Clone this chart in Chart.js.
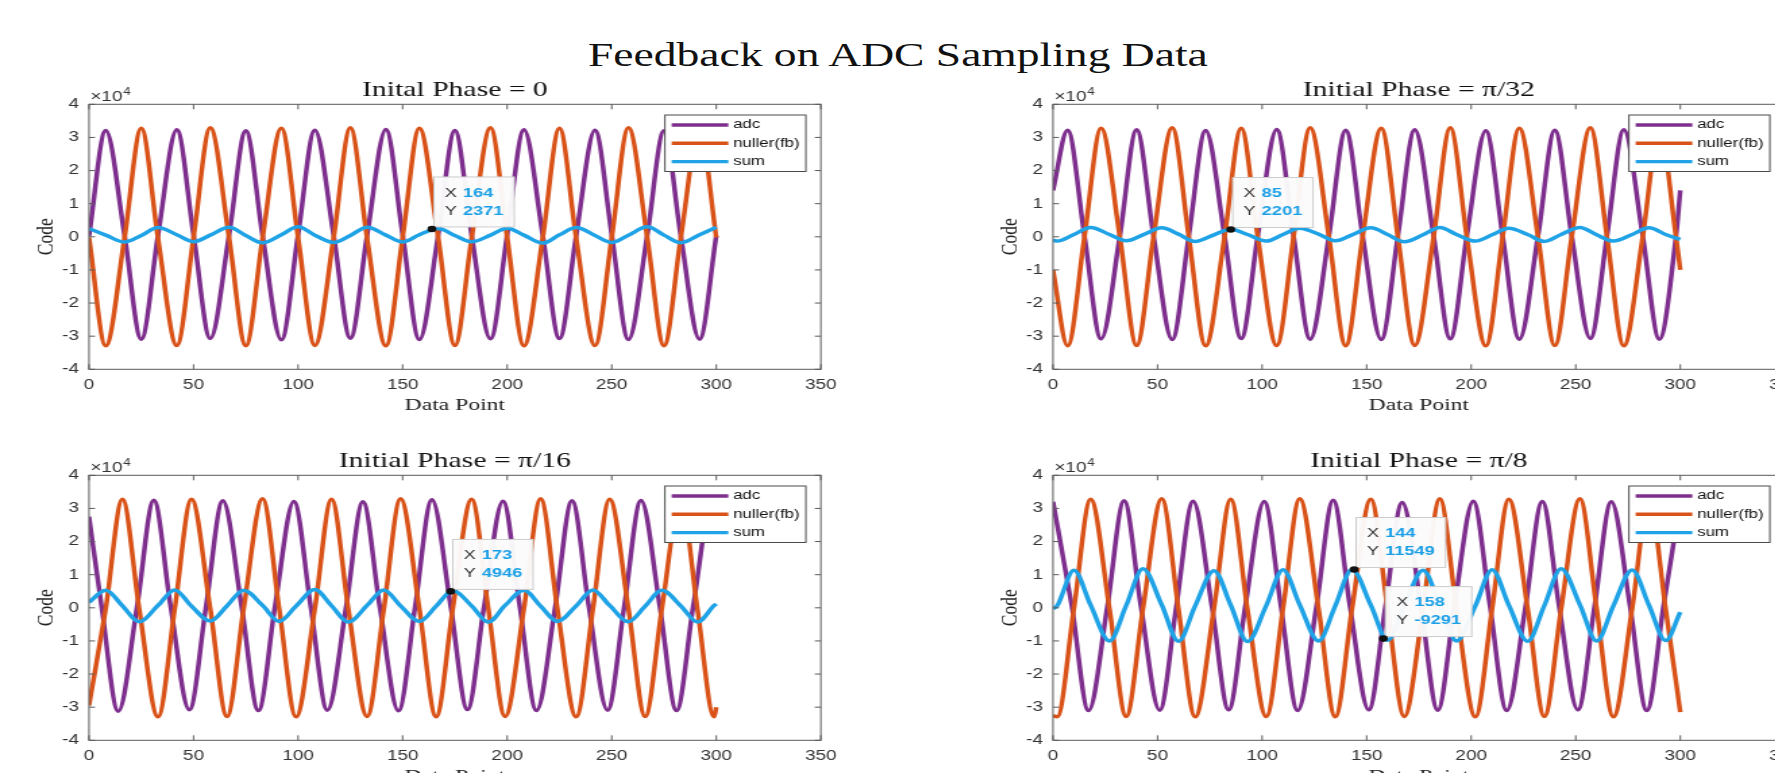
<!DOCTYPE html>
<html><head><meta charset="utf-8">
<script src="https://cdn.jsdelivr.net/npm/chart.js@4.4.1/dist/chart.umd.min.js"></script>
<style>
html,body{margin:0;padding:0;background:#fff;overflow:hidden;width:1775px;height:773px}
body{position:relative}
#mainTitle{position:absolute;left:588px;top:39px;font-family:'Liberation Serif',serif;font-size:33px;line-height:33px;white-space:nowrap;transform:scaleX(1.38);transform-origin:0 0;color:#111}
canvas{position:absolute}
</style></head><body>
<div id="mainTitle">Feedback on ADC Sampling Data</div>
<canvas id="c1" width="652" height="360" style="left:0px;top:60px;width:880.2px;height:360px"></canvas>
<canvas id="c2" width="652" height="360" style="left:964px;top:60px;width:880.2px;height:360px"></canvas>
<canvas id="c3" width="652" height="360" style="left:0px;top:430.6px;width:880.2px;height:360px"></canvas>
<canvas id="c4" width="652" height="360" style="left:964px;top:430.6px;width:880.2px;height:360px"></canvas>
<script>
// ---------- data ----------
const seriesNames = ['adc', 'nuller(fb)', 'sum'];
const seriesColors = ['#7E2F8E', '#D95319', '#1FA3E6'];
const subplotTitles = ['Inital Phase = 0', 'Initial Phase = \u03C0/32', 'Initial Phase = \u03C0/16', 'Initial Phase = \u03C0/8'];

// Plot 1 : initial phase 0
const grid1 = [0,8,17,25,33,42,50,58,67,75,83,92,100,108,117,125,133,142,150,158,167,175,183,192,200,208,217,225,233,242,250,258,267,275,283,292,300];
const adc1 = [200,32100,500,-30900,400,32300,600,-30700,500,32000,400,-31100,600,32200,500,-30600,400,32400,600,-31000,500,32100,400,-30800,600,32300,500,-30700,400,32200,600,-31000,500,32000,400,-30900,300];
const nul1 = [-200,-32900,-300,32800,-400,-32800,-200,32900,-300,-32900,-400,32800,-200,-32800,-300,32900,-400,-32900,-200,32800,-300,-32800,-400,32900,-200,-32900,-300,32800,-400,-32800,-200,32900,-300,-32900,-400,32800,-200];
const sum1 = [2500,500,-1600,400,2800,600,-1500,500,2900,400,-1800,600,3000,500,-1700,400,2900,500,-1600,600,2500,400,-1500,500,2600,500,-1900,600,2800,400,-1700,500,3000,500,-1800,600,2900];
const tip1X = [164];
const tip1Y = [2371];

// Plot 2 : initial phase pi/32
const grid2a = [0,7,15,23,32,40,48,57,65,73,82,90,98,107,115,123,132,140,148,157,165,173,182,190,198,207,215,223,232,240,248,257,265,273,282,290,298,300];
const adc2 = [14000,32200,500,-30800,400,32300,600,-31000,500,32100,400,-30700,600,32400,500,-30900,400,32200,600,-31000,500,32300,400,-30800,600,32000,500,-30900,400,32200,600,-30700,500,32300,400,-30900,500,14000];
const nul2 = [-10000,-32900,-300,32800,-200,-32800,-400,32900,-300,-32900,-200,32800,-400,-32800,-300,32900,-200,-32900,-400,32800,-300,-32800,-200,32900,-400,-32900,-300,32800,-200,-32800,-400,32900,-300,-32900,-200,32800,-300,-10000];
const grid2b = [0,2,10,18,27,35,43,52,60,68,77,85,93,102,110,118,127,135,143,152,160,168,177,185,193,202,210,218,227,235,243,252,260,268,277,285,293,300];
const sum2 = [-1000,-1300,700,2800,700,-1200,600,2700,800,-1400,600,2300,700,-1300,700,2600,800,-1200,600,2700,700,-1500,600,2800,700,-1300,600,2600,700,-1400,700,2800,600,-1300,700,2700,700,-800];
const tip2X = [85];
const tip2Y = [2201];

// Plot 3 : initial phase pi/16
const grid3a = [0,6,14,23,31,39,48,56,64,73,81,89,98,106,114,123,131,139,148,156,164,173,181,189,198,206,214,223,231,239,248,256,264,273,281,289,298,300];
const adc3 = [27500,500,-31200,400,32500,600,-30800,500,32300,400,-31000,600,32100,500,-30900,400,32000,600,-31100,500,32600,400,-30700,600,32200,500,-31000,400,32300,600,-30900,500,32400,400,-31000,600,32200,31000];
const grid3b = [0,8,16,24,33,41,49,58,66,74,83,91,99,108,116,124,133,141,149,158,166,174,183,191,199,208,216,224,233,241,249,258,266,274,283,291,299,300];
const nul3 = [-29500,-300,32800,-200,-32900,-400,32800,-300,-32800,-200,32900,-400,-32900,-300,32800,-200,-32800,-400,32900,-300,-32900,-200,32800,-400,-32800,-300,32900,-200,-32900,-400,32800,-300,-32800,-200,32900,-400,-32900,-30000];
const sum3 = [1700,5300,600,-4200,700,5400,500,-4000,600,5300,700,-4100,500,5500,600,-4300,700,5400,600,-4100,500,5200,600,-4300,700,5300,500,-4100,600,5400,700,-4200,500,5300,600,-4300,700,1200];
const tip3X = [173];
const tip3Y = [4946];

// Plot 4 : initial phase pi/8
const grid4a = [0,9,17,26,34,42,51,59,67,76,84,92,101,109,117,126,134,142,151,159,167,176,184,192,201,209,217,226,234,242,251,259,267,276,284,292,300];
const adc4 = [32000,500,-31000,400,32300,600,-30900,500,32200,400,-30800,600,32100,500,-31000,400,32500,600,-30800,500,31800,400,-30900,600,32200,500,-31000,400,32100,600,-30800,500,32000,400,-31000,600,32200];
const grid4b = [0,2,10,18,27,35,43,52,60,68,77,85,93,102,110,118,127,135,143,152,160,168,177,185,193,202,210,218,227,235,243,252,260,268,277,285,293,300];
const nul4 = [-32600,-32900,-300,32800,-200,-32800,-400,32900,-300,-32900,-200,32800,-400,-32800,-300,32900,-200,-32900,-400,32800,-300,-32800,-200,32900,-400,-32900,-300,32800,-200,-32800,-400,32900,-300,-32900,-200,32800,-300,-31500];
const sum4 = [-300,600,11300,800,-10000,700,11800,900,-10100,600,11200,800,-10200,700,11500,900,-10000,600,11600,800,-9800,700,11300,900,-10000,600,11500,800,-10100,700,11800,900,-10000,600,11400,800,-9900,-1300];
const tip4X = [144, 158];
const tip4Y = [11549, -9291];

// axis limits / ticks
const xMin = 0, xMax = 350, xStep = 50;
const yMin = -40000, yMax = 40000, yStep = 10000, yExponent = 4;

// ---------- rendering ----------
Chart.defaults.font.family = "'Liberation Sans', Arial, sans-serif";

function pts(xs, ys) { return xs.map((x, i) => ({ x: x, y: ys[i] })); }

function drawTipBoxes(chart) {
  const opts = chart.options.plugins.matlabAxes;
  const { ctx, scales: { x, y } } = chart;
  ctx.save();
  opts.tipsX.forEach((xv, i) => {
    const yv = opts.tipsY[i];
    const px = x.getPixelForValue(xv), py = y.getPixelForValue(yv);
    ctx.font = "bold 13.5px 'Liberation Sans'";
    const w = Math.max(ctx.measureText(String(xv)).width, ctx.measureText(String(yv)).width);
    const bw = 21.5 + w + 8, bh = 50;
    const bx = px + 1.5, by = py - 2 - bh;
    ctx.fillStyle = 'rgba(251,251,251,0.97)';
    ctx.fillRect(bx, by, bw, bh);
    ctx.strokeStyle = '#cccccc'; ctx.lineWidth = 1;
    ctx.strokeRect(bx, by, bw, bh);
    ctx.textBaseline = 'middle'; ctx.textAlign = 'left';
    ctx.font = "13.5px 'Liberation Sans'"; ctx.fillStyle = '#333';
    ctx.fillText('X', bx + 8, by + 16);
    ctx.fillText('Y', bx + 8, by + 34);
    ctx.font = "bold 13.5px 'Liberation Sans'"; ctx.fillStyle = '#1A9FE6';
    ctx.fillText(String(xv), bx + 21.5, by + 16);
    ctx.fillText(String(yv), bx + 21.5, by + 34);
  });
  ctx.restore();
}

const matlabAxes = {
  id: 'matlabAxes',
  beforeDatasetDraw(chart, args) {
    if (args.index === 3) drawTipBoxes(chart);
  },
  afterDatasetsDraw(chart) {
    const { ctx, chartArea: a, scales: { x, y } } = chart;
    ctx.save();
    // axes box + inward ticks
    ctx.strokeStyle = '#5a5a5a'; ctx.lineWidth = 1;
    ctx.strokeRect(a.left, a.top, a.right - a.left, a.bottom - a.top);
    ctx.beginPath();
    x.ticks.forEach(t => {
      const px = x.getPixelForValue(t.value);
      ctx.moveTo(px, a.bottom); ctx.lineTo(px, a.bottom - 5);
      ctx.moveTo(px, a.top); ctx.lineTo(px, a.top + 5);
    });
    y.ticks.forEach(t => {
      const py = y.getPixelForValue(t.value);
      ctx.moveTo(a.left, py); ctx.lineTo(a.left + 4.5, py);
      ctx.moveTo(a.right, py); ctx.lineTo(a.right - 4.5, py);
    });
    ctx.stroke();
    // exponent label
    ctx.fillStyle = '#333'; ctx.textAlign = 'left'; ctx.textBaseline = 'alphabetic';
    ctx.font = "14px 'Liberation Sans'";
    ctx.fillText('\u00D710', a.left + 1, a.top - 3);
    const w = ctx.measureText('\u00D710').width;
    ctx.font = "10px 'Liberation Sans'";
    ctx.fillText(String(yExponent), a.left + 1.5 + w, a.top - 9);
    // legend box
    const lw = 104.4, lh = 56.5;
    const lx = a.right - 11.1 - lw, ly = a.top + 10.7;
    ctx.fillStyle = '#ffffff'; ctx.fillRect(lx, ly, lw, lh);
    ctx.strokeStyle = '#4a4a4a'; ctx.lineWidth = 1; ctx.strokeRect(lx, ly, lw, lh);
    chart.data.datasets.slice(0, 3).forEach((ds, i) => {
      const ry = ly + 10 + i * 18.3;
      ctx.strokeStyle = ds.borderColor; ctx.lineWidth = 3.4;
      ctx.beginPath(); ctx.moveTo(lx + 5, ry); ctx.lineTo(lx + 47, ry); ctx.stroke();
      ctx.fillStyle = '#111'; ctx.font = "12.5px 'Liberation Sans'"; ctx.textBaseline = 'middle';
      ctx.fillText(ds.label, lx + 50.5, ry);
    });
    ctx.restore();
  }
};

function makeChart(id, title, xs, ys, tipX, tipY) {
  const order = [4, 3, 2];
  const datasets = seriesNames.map((name, i) => ({
    label: name,
    data: pts(xs[i], ys[i]),
    borderColor: seriesColors[i],
    backgroundColor: seriesColors[i],
    borderWidth: 3.5,
    pointRadius: 0,
    cubicInterpolationMode: 'monotone',
    fill: false,
    order: order[i]
  }));
  datasets.push({
    label: 'datatip',
    data: pts(tipX, tipY),
    showLine: false,
    pointRadius: 3.3,
    pointBackgroundColor: '#111',
    pointBorderColor: '#111',
    pointBorderWidth: 0,
    borderColor: '#111',
    order: 1
  });
  return new Chart(document.getElementById(id), {
    type: 'line',
    data: { datasets },
    plugins: [matlabAxes],
    options: {
      responsive: false,
      animation: false,
      events: [],
      layout: { padding: { left: 0, right: 43.85, top: 0, bottom: 0 } },
      plugins: {
        legend: { display: false },
        tooltip: { enabled: false },
        title: {
          display: true, text: title, fullSize: false, color: '#111',
          font: { family: "'Liberation Serif', serif", size: 22, weight: 'normal' },
          padding: { top: 16.8, bottom: 1.1 }
        },
        matlabAxes: { tipsX: tipX, tipsY: tipY }
      },
      scales: {
        x: {
          type: 'linear', min: xMin, max: xMax,
          ticks: { stepSize: xStep, padding: 7, color: '#333', font: { size: 14 }, maxRotation: 0, autoSkip: false },
          grid: { display: false, drawTicks: false },
          border: { display: false },
          title: { display: true, text: 'Data Point', color: '#222',
                   font: { family: "'Liberation Serif', serif", size: 17.5 }, padding: { top: 0, bottom: 4.3 } },
          afterFit(s) { s.height = 50.7; }
        },
        y: {
          type: 'linear', min: yMin, max: yMax,
          ticks: { stepSize: yStep, padding: 7.4, color: '#333', font: { size: 14 },
                   callback: v => String(v / Math.pow(10, yExponent)) },
          grid: { display: false, drawTicks: false },
          border: { display: false },
          title: { display: true, text: 'Code', color: '#222',
                   font: { family: "'Liberation Serif', serif", size: 17.5 }, padding: { top: 24.4, bottom: 0 } },
          afterFit(s) { s.width = 65.93; }
        }
      }
    }
  });
}

makeChart('c1', subplotTitles[0], [grid1, grid1, grid1], [adc1, nul1, sum1], tip1X, tip1Y);
makeChart('c2', subplotTitles[1], [grid2a, grid2a, grid2b], [adc2, nul2, sum2], tip2X, tip2Y);
makeChart('c3', subplotTitles[2], [grid3a, grid3b, grid3b], [adc3, nul3, sum3], tip3X, tip3Y);
makeChart('c4', subplotTitles[3], [grid4a, grid4b, grid4b], [adc4, nul4, sum4], tip4X, tip4Y);
</script>
</body></html>
